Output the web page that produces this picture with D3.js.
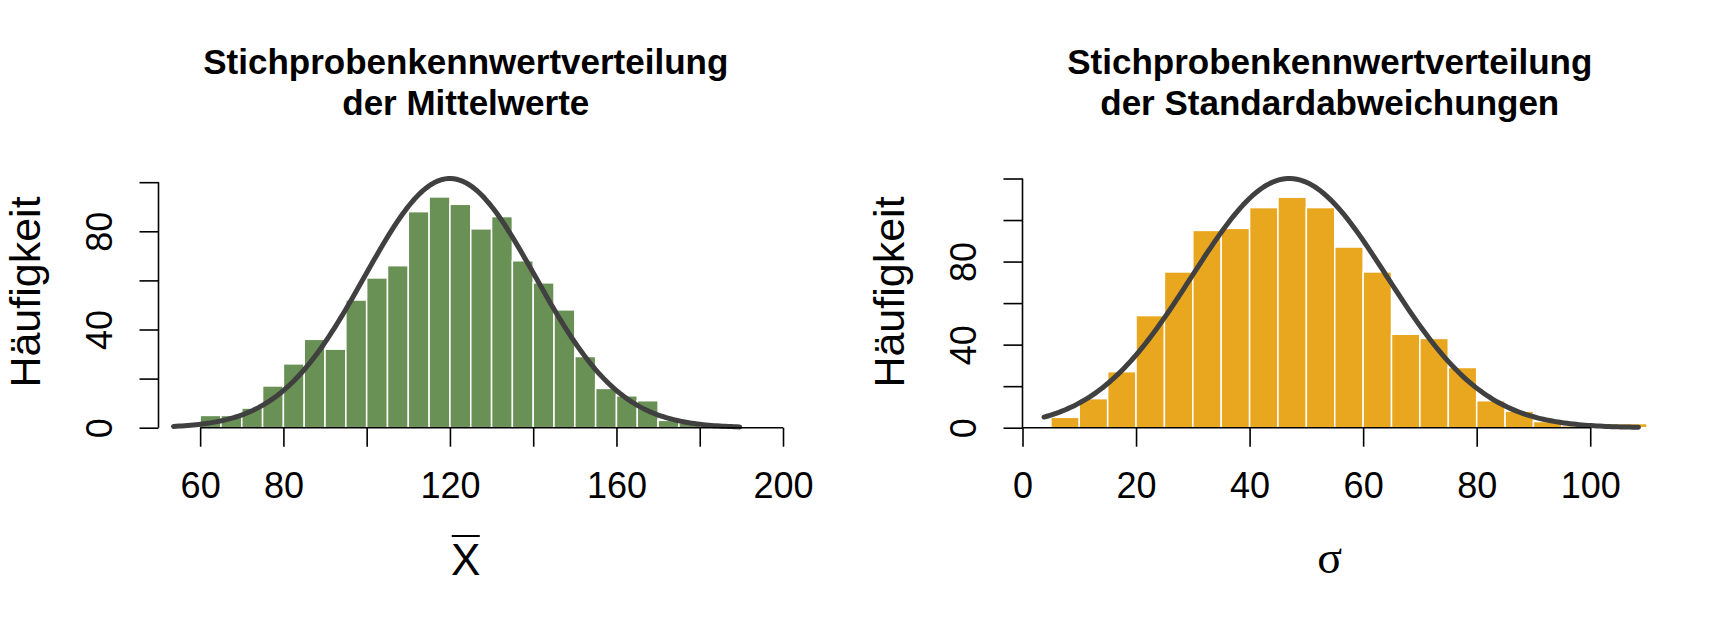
<!DOCTYPE html>
<html>
<head>
<meta charset="utf-8">
<script src="https://cdn.jsdelivr.net/npm/d3@7"></script>
<style>
  body { margin: 0; background: #fff; }
  svg { display: block; }
  text { font-family: "Liberation Sans", Arial, Helvetica, sans-serif; fill: #000; }
</style>
</head>
<body>
<div id="chart"></div>
<script>
'use strict';

// histogram of sample means (bins of width 5)
const meanBinStarts = [60, 65, 70, 75, 80, 85, 90, 95, 100, 105, 110, 115, 120, 125,
                       130, 135, 140, 145, 150, 155, 160, 165, 170, 175];
const meanCounts = [5, 5, 8, 17, 26, 36, 32, 52, 61, 66, 88, 94, 91, 81,
                    86, 68, 59, 48, 29, 16, 13, 11, 3, 2];
const meanTicks = [60, 80, 100, 120, 140, 160, 180, 200];
const meanTickLabels = ['60', '80', '', '120', '', '160', '', '200'];
const meanYTicks = [0, 20, 40, 60, 80, 100];
const meanYTickLabels = ['0', '', '40', '', '80', ''];

// histogram of sample standard deviations
const sdBinStarts = [5, 10, 15, 20, 25, 30, 35, 40, 45, 50, 55, 60, 65, 70,
                     75, 80, 85, 90, 95, 100, 105];
const sdCounts = [5, 14, 27, 54, 75, 95, 96, 106, 111, 106, 87, 75, 45, 43,
                  29, 13, 8, 3, 1, 2, 2];
const sdTicks = [0, 20, 40, 60, 80, 100];
const sdTickLabels = ['0', '20', '40', '60', '80', '100'];
const sdYTicks = [0, 20, 40, 60, 80, 100, 120];
const sdYTickLabels = ['0', '', '40', '', '80', '', ''];

const binWidth = 5;

// fitted normal curves: centre, spread, height and drawn range
const meanCurve = { mu: 120, sigma: 20.5, peak: 101.5, from: 53.6, to: 189.6 };
const sdCurve = { mu: 47, sigma: 17.2, peak: 120, from: 3.8, to: 108.5 };

const width = 1728;
const height = 624;
const plotTop = 178.5;
const plotBottom = 427.7;
const plotLeft = 158.5;
const plotWidth = 624.5;

const svg = d3.select('#chart')
              .append('svg')
              .attr('width', width)
              .attr('height', height);

svg.append('rect').attr('width', width).attr('height', height).attr('fill', '#fff');

function makePanel(opts) {
  const g = svg.append('g').attr('transform', 'translate(' + opts.offset + ',0)');

  const x = d3.scaleLinear().domain(opts.xDomain).range([plotLeft, plotLeft + plotWidth]);
  const y = d3.scaleLinear().domain([0, opts.yMax]).range([plotBottom, plotTop]);

  // bars
  const bins = opts.starts.map(function(s, i) { return { x0: s, x1: s + binWidth, n: opts.counts[i] }; })
                          .filter(function(d) { return d.n > 0; });
  g.selectAll('.bar')
   .data(bins)
   .enter()
   .append('rect')
   .attr('class', 'bar')
   .attr('x', function(d) { return x(d.x0); })
   .attr('width', function(d) { return x(d.x1) - x(d.x0); })
   .attr('y', function(d) { return y(d.n); })
   .attr('height', function(d) { return y(0) - y(d.n); })
   .attr('fill', opts.colour)
   .attr('stroke', '#fff')
   .attr('stroke-width', 1.5);

  // normal curve
  const c = opts.curve;
  const pts = d3.range(0, 201).map(function(i) {
    const v = c.from + (c.to - c.from) * i / 200;
    const z = (v - c.mu) / c.sigma;
    return [v, c.peak * Math.exp(-0.5 * z * z)];
  });
  g.append('path')
   .datum(pts)
   .attr('fill', 'none')
   .attr('stroke', '#404040')
   .attr('stroke-width', 5)
   .attr('stroke-linecap', 'round')
   .attr('stroke-linejoin', 'round')
   .attr('d', d3.line().x(function(d) { return x(d[0]); }).y(function(d) { return y(d[1]); }));

  // x axis
  const xAxis = d3.axisBottom(x)
                  .tickValues(opts.xTicks)
                  .tickSize(19)
                  .tickPadding(26)
                  .tickFormat(function(d, i) { return opts.xTickLabels[i]; });
  const xg = g.append('g').attr('transform', 'translate(0,' + plotBottom + ')').call(xAxis);
  xg.select('.domain').remove();
  xg.append('line')
    .attr('x1', x(opts.xTicks[0]))
    .attr('x2', x(opts.xTicks[opts.xTicks.length - 1]))
    .attr('stroke', '#000')
    .attr('stroke-width', 1.6);
  xg.selectAll('.tick line').attr('stroke', '#000').attr('stroke-width', 1.6);
  xg.selectAll('.tick text')
    .style('font-size', '36px')
    .style('font-family', '"Liberation Sans", Arial, sans-serif')
    .attr('fill', '#000');

  // y axis, labels rotated like R's default las=0
  const yAxis = d3.axisLeft(y)
                  .tickValues(opts.yTicks)
                  .tickSize(19)
                  .tickFormat(function(d, i) { return opts.yTickLabels[i]; });
  const yg = g.append('g').attr('transform', 'translate(' + plotLeft + ',0)').call(yAxis);
  yg.select('.domain').remove();
  yg.append('line')
    .attr('y1', y(opts.yTicks[0]))
    .attr('y2', y(opts.yTicks[opts.yTicks.length - 1]))
    .attr('stroke', '#000')
    .attr('stroke-width', 1.6);
  yg.selectAll('.tick line').attr('stroke', '#000').attr('stroke-width', 1.6);
  yg.selectAll('.tick text')
    .attr('x', null)
    .attr('dy', null)
    .attr('text-anchor', 'middle')
    .attr('transform', 'translate(-47,0) rotate(-90)')
    .style('font-size', '36px')
    .style('font-family', '"Liberation Sans", Arial, sans-serif')
    .attr('fill', '#000');

  // titles
  const cx = plotLeft + plotWidth / 2 - 5;
  g.append('text')
   .attr('x', cx).attr('y', 74)
   .attr('text-anchor', 'middle')
   .style('font-size', '35px').style('font-weight', 'bold')
   .text(opts.title[0]);
  g.append('text')
   .attr('x', cx).attr('y', 114.6)
   .attr('text-anchor', 'middle')
   .style('font-size', '35px').style('font-weight', 'bold')
   .text(opts.title[1]);

  g.append('text')
   .attr('transform', 'translate(40,292) rotate(-90)')
   .attr('text-anchor', 'middle')
   .style('font-size', '43px')
   .text('Häufigkeit');

  opts.xLabel(g, cx);
}

makePanel({
  offset: 0,
  xDomain: [50, 200],
  yMax: 101.5,
  yTicks: meanYTicks,
  yTickLabels: meanYTickLabels,
  starts: meanBinStarts,
  counts: meanCounts,
  colour: '#6a9155',
  curve: meanCurve,
  xTicks: meanTicks,
  xTickLabels: meanTickLabels,
  title: ['Stichprobenkennwertverteilung', 'der Mittelwerte'],
  xLabel: function(g, cx) {
    g.append('text')
     .attr('x', cx).attr('y', 575)
     .attr('text-anchor', 'middle')
     .style('font-size', '44px')
     .text('X');
    g.append('line')
     .attr('x1', cx - 14).attr('x2', cx + 14)
     .attr('y1', 536).attr('y2', 536)
     .attr('stroke', '#000').attr('stroke-width', 2);
  }
});

makePanel({
  offset: 864,
  xDomain: [0, 110],
  yMax: 120,
  yTicks: sdYTicks,
  yTickLabels: sdYTickLabels,
  starts: sdBinStarts,
  counts: sdCounts,
  colour: '#e8a71e',
  curve: sdCurve,
  xTicks: sdTicks,
  xTickLabels: sdTickLabels,
  title: ['Stichprobenkennwertverteilung', 'der Standardabweichungen'],
  xLabel: function(g, cx) {
    g.append('text')
     .attr('x', cx).attr('y', 573)
     .attr('text-anchor', 'middle')
     .style('font-size', '46px')
     .style('font-family', '"Liberation Serif", "DejaVu Serif", serif')
     .text('σ');
  }
});
</script>
</body>
</html>
